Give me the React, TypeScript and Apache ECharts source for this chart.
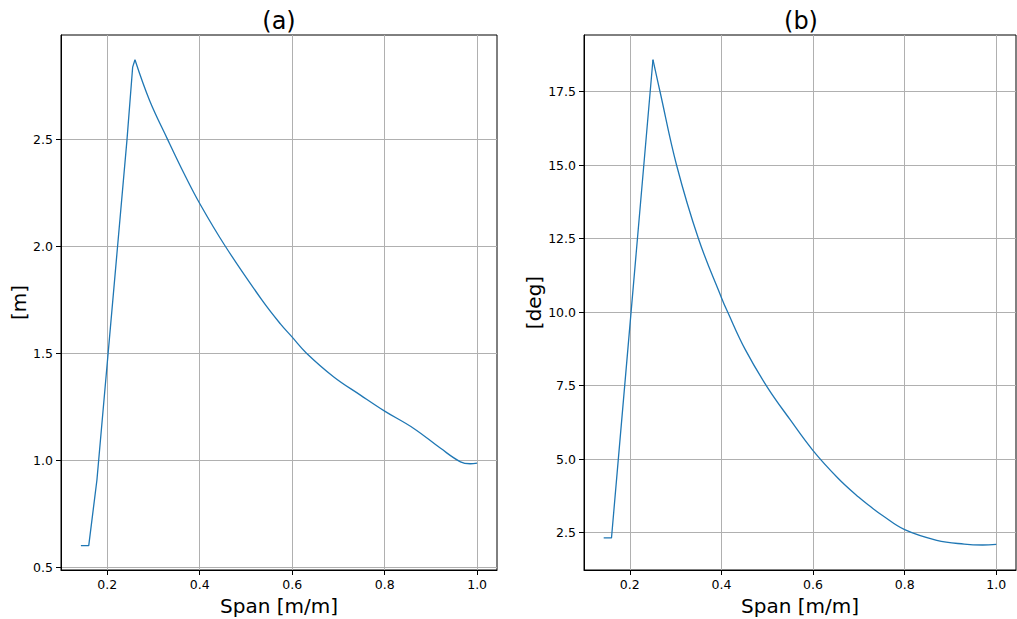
import React, { useEffect, useRef } from "react";
import * as echarts from "echarts";

// Panel (a): spanwise displacement [m]
const riseA: number[][] = [
  [0.143, 0.6], [0.16, 0.6], [0.1777, 0.907], [0.2426, 2.495], [0.255, 2.838], [0.26, 2.872],
];
const fallA: number[][] = [
  [0.26, 2.872], [0.2916, 2.682], [0.3305, 2.5], [0.365, 2.345], [0.4, 2.2], [0.4554, 2.0],
  [0.5348, 1.748], [0.5745, 1.637], [0.6, 1.575], [0.631, 1.5], [0.69, 1.389], [0.7476, 1.304],
  [0.8, 1.229], [0.863, 1.148], [0.921, 1.055], [0.964, 0.992], [0.985, 0.983], [1.0, 0.986],
];
// Panel (b): twist angle [deg]
const riseB: number[][] = [
  [0.143, 2.32], [0.16, 2.32], [0.1957, 8.73], [0.2505, 18.58],
];
const fallB: number[][] = [
  [0.2505, 18.58], [0.266, 17.49], [0.302, 15.0], [0.3497, 12.5], [0.4, 10.49], [0.4136, 10.0],
  [0.4518, 8.73], [0.5, 7.45], [0.55, 6.34], [0.6, 5.29], [0.654, 4.36], [0.7, 3.7],
  [0.7266, 3.37], [0.75, 3.1], [0.8, 2.6], [0.87, 2.24], [0.93, 2.11], [0.97, 2.08], [1.0, 2.1],
];
const xTicks = [0.2, 0.4, 0.6, 0.8, 1.0];
const yTicksA = [0.5, 1.0, 1.5, 2.0, 2.5];
const yTicksB = [2.5, 5.0, 7.5, 10.0, 12.5, 15.0, 17.5];
const titles = ["(a)", "(b)"];
const xName = "Span [m/m]";
const yNames = ["[m]", "[deg]"];

const FONT = "DejaVu Sans";
const BLUE = "#1f77b4";

export default function App() {
  const ref = useRef<HTMLDivElement>(null);
  useEffect(() => {
    if (!ref.current) return;
    const chart = echarts.init(ref.current, null, { renderer: "svg" });
    const xAxisBase = (gridIndex: number) => ({
      type: "value",
      gridIndex,
      min: 0.1,
      max: 1.043,
      name: xName,
      nameLocation: "middle",
      nameGap: 20,
      nameTextStyle: { fontFamily: FONT, fontSize: 20, color: "#000" },
      axisLine: { show: true, lineStyle: { color: "#000", width: 1 } },
      axisTick: { show: true, inside: false, length: 5, customValues: xTicks, lineStyle: { color: "#000" } },
      axisLabel: {
        customValues: xTicks,
        formatter: (v: number) => v.toFixed(1),
        fontFamily: FONT, fontSize: 12.5, color: "#000", margin: 8,
      },
      splitLine: { show: true, lineStyle: { color: "#b0b0b0", width: 1 } },
    });
    const yAxisBase = (gridIndex: number, min: number, max: number, ticks: number[], name: string, gap: number) => ({
      type: "value",
      gridIndex,
      min,
      max,
      name,
      nameLocation: "middle",
      nameGap: gap,
      nameRotate: 90,
      nameTextStyle: { fontFamily: FONT, fontSize: 20, color: "#000" },
      axisLine: { show: true, lineStyle: { color: "#000", width: 1 } },
      axisTick: { show: true, inside: false, length: 5, customValues: ticks, lineStyle: { color: "#000" } },
      axisLabel: {
        customValues: ticks,
        formatter: (v: number) => v.toFixed(1),
        fontFamily: FONT, fontSize: 12.5, color: "#000", margin: 8,
      },
      splitLine: { show: true, lineStyle: { color: "#b0b0b0", width: 1 } },
    });
    const lineSeries = (data: number[][], idx: number, smooth: boolean) => ({
      type: "line",
      xAxisIndex: idx,
      yAxisIndex: idx,
      data,
      showSymbol: false,
      symbol: "none",
      smooth: smooth ? 0.4 : false,
      lineStyle: { color: BLUE, width: 1.3 },
      itemStyle: { color: BLUE },
    });
    chart.setOption({
      animation: false,
      backgroundColor: "#fff",
      grid: [
        { left: 61, top: 35, width: 436, height: 535, show: true, borderColor: "#000", borderWidth: 1, backgroundColor: "transparent", containLabel: false, outerBoundsMode: "none" },
        { left: 584, top: 35, width: 432, height: 535, show: true, borderColor: "#000", borderWidth: 1, backgroundColor: "transparent", containLabel: false, outerBoundsMode: "none" },
      ],
      xAxis: [xAxisBase(0), xAxisBase(1)],
      yAxis: [
        yAxisBase(0, 0.486, 2.988, yTicksA, yNames[0], 31),
        yAxisBase(1, 1.23, 19.42, yTicksB, yNames[1], 38),
      ],
      graphic: [
        { type: "text", x: 279, y: 21, style: { text: titles[0], fontFamily: FONT, fontSize: 24, fill: "#000", textAlign: "center", textVerticalAlign: "middle" } },
        { type: "text", x: 801, y: 21, style: { text: titles[1], fontFamily: FONT, fontSize: 24, fill: "#000", textAlign: "center", textVerticalAlign: "middle" } },
      ],
      series: [
        lineSeries(riseA, 0, false),
        lineSeries(fallA, 0, true),
        lineSeries(riseB, 1, false),
        lineSeries(fallB, 1, true),
      ],
    });
    return () => chart.dispose();
  }, []);
  return <div ref={ref} style={{ position: "absolute", left: 0, top: 0, width: 1017, height: 619 }} />;
}
